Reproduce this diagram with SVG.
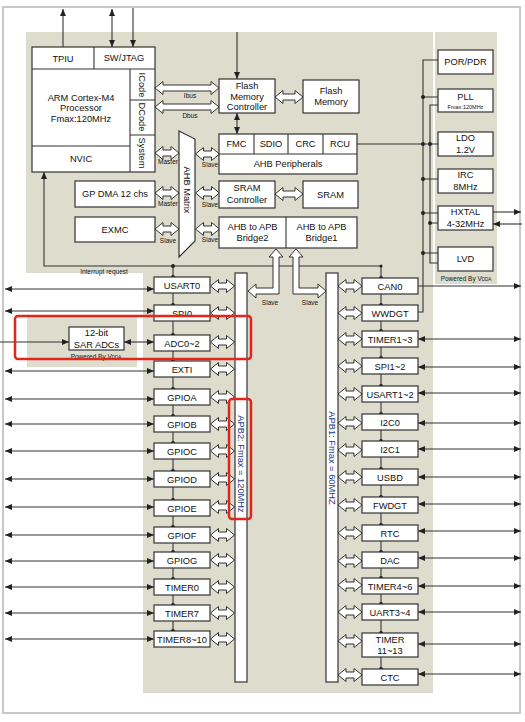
<svg xmlns="http://www.w3.org/2000/svg" xmlns:xlink="http://www.w3.org/1999/xlink" width="525" height="722" viewBox="0 0 525 722">
<style>
.bg{fill:#deddcd}
.box{fill:#fff;stroke:#333;stroke-width:1.2}
.t{font-family:"Liberation Sans",Arial,sans-serif;font-size:9.3px;fill:#111;text-anchor:middle}
.s{font-size:6.5px}
.xs{font-size:5.5px}
.bus{fill:#1c3a8a}
.ln{stroke:#333;stroke-width:1.1;fill:none}
.ar{marker-end:url(#ah)}
.ar2{marker-start:url(#ah);marker-end:url(#ah)}
.ha{fill:#fff;stroke:#333;stroke-width:1}
.dot{fill:#222}
.red{fill:none;stroke:#e3261d;stroke-width:2.5}
</style>
<defs>
<marker id="ah" viewBox="0 0 7 6" refX="7" refY="3" markerWidth="7" markerHeight="6" markerUnits="userSpaceOnUse" orient="auto-start-reverse"><path d="M0,0 L7,3 L0,6 z" fill="#222"/></marker>
<path id="dh" class="ha" d="M0,0 L8,-6.5 L8,-3 L16,-3 L16,-6.5 L24,0 L16,6.5 L16,3 L8,3 L8,6.5 Z"/>
</defs>
<rect x="0" y="0" width="525" height="722" fill="#fff"/>
<rect x="3" y="7" width="517" height="706" fill="#fff" stroke="#c8c8c8" stroke-width="2"/>
<path class="bg" d="M26,32 H433 V693 H143 V273 H26 Z"/>
<rect class="bg" x="435" y="32" width="62" height="252"/>
<rect class="bg" x="27" y="317" width="110" height="50"/>

<g id="connectors">
<path class="ln ar" d="M63,47 V9"/>
<path class="ln ar2" d="M112,9 V47"/>
<path class="ln ar" d="M133,8 V47"/>
<path class="ln ar" d="M237,32 V79"/>
<path class="ln ar2" d="M237,113 V134"/>
<path class="ln ar" d="M381,278 V266 H44 V172"/>
<path class="ln" d="M173,266 V631"/>
<path class="ln" d="M381,278 V669"/>
<path class="ln" d="M357,144 H423"/>
<path class="ln" d="M438,60 H423 V312 H418"/>
<path class="ln" d="M423,97 H438 M423,144 H438 M423,179 H438 M423,213 H438 M423,253 H438"/>
<path class="ln" d="M438,105 H430 V263 H438 M430,223 H438"/>
<path class="ln ar" d="M493,212 H521"/>
<path class="ln ar" d="M522,224 H493"/>
<path class="ln ar" d="M418,286 H521"/>
<path class="ln ar" d="M0,342 H69"/>
<path class="ln ar2" d="M124,342 H154"/>
<g class="ln ar2">
<path d="M5,289 H154"/><path d="M5,311 H154"/><path d="M5,371 H154"/><path d="M5,399 H154"/>
<path d="M5,424 H154"/><path d="M5,451 H154"/><path d="M5,479 H154"/><path d="M5,507 H154"/>
<path d="M5,535 H154"/><path d="M5,561 H154"/><path d="M5,587 H154"/><path d="M5,613 H154"/><path d="M5,639 H154"/>
<path d="M418,339 H521"/><path d="M418,367 H521"/><path d="M418,393 H521"/><path d="M418,423 H521"/>
<path d="M418,449 H521"/><path d="M418,477 H521"/><path d="M418,504 H521"/><path d="M418,531 H521"/>
<path d="M418,558 H521"/><path d="M418,586 H521"/><path d="M418,612 H521"/><path d="M418,644 H521"/><path d="M418,674 H521"/>
</g>
<g class="dot">
<circle cx="173" cy="266" r="2"/><circle cx="381" cy="266" r="1.5"/>
<circle cx="173" cy="277" r="2"/><circle cx="173" cy="305" r="2"/><circle cx="173" cy="335" r="2"/><circle cx="173" cy="361" r="2"/>
<circle cx="173" cy="389" r="2"/><circle cx="173" cy="416" r="2"/><circle cx="173" cy="443" r="2"/><circle cx="173" cy="471" r="2"/>
<circle cx="173" cy="500" r="2"/><circle cx="173" cy="527" r="2"/><circle cx="173" cy="552" r="2"/><circle cx="173" cy="579" r="2"/>
<circle cx="173" cy="605" r="2"/><circle cx="173" cy="631" r="2"/>
<circle cx="381" cy="278" r="2"/><circle cx="381" cy="305" r="2"/><circle cx="381" cy="331" r="2"/><circle cx="381" cy="358" r="2"/>
<circle cx="381" cy="386" r="2"/><circle cx="381" cy="414" r="2"/><circle cx="381" cy="441" r="2"/><circle cx="381" cy="469" r="2"/>
<circle cx="381" cy="497" r="2"/><circle cx="381" cy="525" r="2"/><circle cx="381" cy="552" r="2"/><circle cx="381" cy="578" r="2"/>
<circle cx="381" cy="604" r="2"/><circle cx="381" cy="633" r="2"/><circle cx="381" cy="669" r="2"/>
<circle cx="423" cy="97" r="2"/><circle cx="423" cy="144" r="2"/><circle cx="430" cy="144" r="2"/><circle cx="423" cy="179" r="2"/>
<circle cx="423" cy="213" r="2"/><circle cx="430" cy="223" r="2"/><circle cx="423" cy="253" r="2"/>
</g>
<path class="ha" d="M155,88 L163,81.5 L163,85 L211,85 L211,81.5 L219,88 L211,94.5 L211,91 L163,91 L163,94.5 Z"/>
<path class="ha" d="M155,107 L163,100.5 L163,104 L211,104 L211,100.5 L219,107 L211,113.5 L211,110 L163,110 L163,113.5 Z"/>
<path class="ha" d="M275,97 L283,90.5 L283,94 L295,94 L295,90.5 L303,97 L295,103.5 L295,100 L283,100 L283,103.5 Z"/>
<path class="ha" d="M275,194 L283,187.5 L283,191 L295,191 L295,187.5 L303,194 L295,200.5 L295,197 L283,197 L283,200.5 Z"/>
<use xlink:href="#dh" href="#dh" transform="translate(155,153)"/>
<use xlink:href="#dh" href="#dh" transform="translate(155,193)"/>
<use xlink:href="#dh" href="#dh" transform="translate(155,229)"/>
<use xlink:href="#dh" href="#dh" transform="translate(195.5,154)"/>
<use xlink:href="#dh" href="#dh" transform="translate(195.5,193)"/>
<use xlink:href="#dh" href="#dh" transform="translate(195.5,229)"/>
<path class="ha" d="M276,249 L283,257 L279,257 L279,294 L256,294 L256,298 L248,291 L256,284 L256,288 L273,288 L273,257 L269,257 Z"/>
<path class="ha" d="M296,249 L303,257 L299,257 L299,288 L318,288 L318,284 L326,291 L318,298 L318,294 L293,294 L293,257 L289,257 Z"/>
<g>
<use xlink:href="#dh" href="#dh" transform="translate(210.5,286)"/>
<use xlink:href="#dh" href="#dh" transform="translate(210.5,313)"/>
<use xlink:href="#dh" href="#dh" transform="translate(210.5,342)"/>
<use xlink:href="#dh" href="#dh" transform="translate(210.5,369)"/>
<use xlink:href="#dh" href="#dh" transform="translate(210.5,397)"/>
<use xlink:href="#dh" href="#dh" transform="translate(210.5,424)"/>
<use xlink:href="#dh" href="#dh" transform="translate(210.5,451)"/>
<use xlink:href="#dh" href="#dh" transform="translate(210.5,479)"/>
<use xlink:href="#dh" href="#dh" transform="translate(210.5,507)"/>
<use xlink:href="#dh" href="#dh" transform="translate(210.5,535)"/>
<use xlink:href="#dh" href="#dh" transform="translate(210.5,560)"/>
<use xlink:href="#dh" href="#dh" transform="translate(210.5,587)"/>
<use xlink:href="#dh" href="#dh" transform="translate(210.5,613)"/>
<use xlink:href="#dh" href="#dh" transform="translate(210.5,639)"/>
<use xlink:href="#dh" href="#dh" transform="translate(338,286)"/>
<use xlink:href="#dh" href="#dh" transform="translate(338,313)"/>
<use xlink:href="#dh" href="#dh" transform="translate(338,339)"/>
<use xlink:href="#dh" href="#dh" transform="translate(338,366)"/>
<use xlink:href="#dh" href="#dh" transform="translate(338,394)"/>
<use xlink:href="#dh" href="#dh" transform="translate(338,423)"/>
<use xlink:href="#dh" href="#dh" transform="translate(338,450)"/>
<use xlink:href="#dh" href="#dh" transform="translate(338,477)"/>
<use xlink:href="#dh" href="#dh" transform="translate(338,505)"/>
<use xlink:href="#dh" href="#dh" transform="translate(338,533)"/>
<use xlink:href="#dh" href="#dh" transform="translate(338,561)"/>
<use xlink:href="#dh" href="#dh" transform="translate(338,585)"/>
<use xlink:href="#dh" href="#dh" transform="translate(338,612)"/>
<use xlink:href="#dh" href="#dh" transform="translate(338,641)"/>
<use xlink:href="#dh" href="#dh" transform="translate(338,675)"/>
</g>
<g class="t s">
<text x="190" y="98">Ibus</text><text x="190" y="118">Dbus</text>
<text x="168" y="164">Master</text><text x="168" y="206">Master</text><text x="168" y="243">Slave</text>
<text x="210" y="167">Slave</text><text x="210" y="207">Slave</text><text x="210" y="242">Slave</text>
<text x="270" y="305">Slave</text><text x="310" y="305">Slave</text>
<text x="104" y="274">Interrupt request</text>
</g>
</g>

<g id="cpu">
<rect class="box" x="32" y="47" width="123" height="125"/>
<path class="ln" d="M32,69 H155 M94,47 V69 M130,69 V172 M130,100 H155 M130,135 H155 M32,146 H130"/>
<text class="t" x="63" y="62">TPIU</text>
<text class="t" x="124" y="61">SW/JTAG</text>
<text class="t" x="81" y="101">ARM Cortex-M4</text>
<text class="t" x="81" y="111">Processor</text>
<text class="t" x="81" y="122">Fmax:120MHz</text>
<text class="t" x="81" y="162">NVIC</text>
<text class="t" x="142" y="85" dominant-baseline="central" transform="rotate(90 142 85)">ICode</text>
<text class="t" x="142" y="117" dominant-baseline="central" transform="rotate(90 142 117)">DCode</text>
<text class="t" x="142" y="153" dominant-baseline="central" transform="rotate(90 142 153)">System</text>
</g>
<g id="ahb-matrix">
<polygon class="box" points="179,131 195,139 195,241 179,257"/>
<text class="t" x="187" y="190" dominant-baseline="central" transform="rotate(90 187 190)">AHB Matrix</text>
</g>
<g id="gpdma"><rect class="box" x="75" y="181" width="80" height="26"/><text class="t" x="115" y="197">GP DMA 12 chs</text></g>
<g id="exmc"><rect class="box" x="75" y="217" width="80" height="25"/><text class="t" x="115" y="233">EXMC</text></g>
<g id="flash-ctrl"><rect class="box" x="219" y="79" width="56" height="34"/><text class="t" x="247" y="89">Flash</text><text class="t" x="247" y="100">Memory</text><text class="t" x="247" y="110">Controller</text></g>
<g id="flash"><rect class="box" x="303" y="80" width="56" height="33"/><text class="t" x="331" y="94">Flash</text><text class="t" x="331" y="105">Memory</text></g>
<g id="ahb-periph">
<rect class="box" x="219" y="134" width="138" height="40"/>
<path class="ln" d="M219,154 H357 M254,134 V154 M288,134 V154 M323,134 V154"/>
<text class="t" x="236.5" y="147">FMC</text><text class="t" x="271" y="147">SDIO</text><text class="t" x="305.5" y="147">CRC</text><text class="t" x="340" y="147">RCU</text>
<text class="t" x="288" y="167">AHB Peripherals</text>
</g>
<g id="sram-ctrl"><rect class="box" x="219" y="181" width="56" height="27"/><text class="t" x="247" y="191">SRAM</text><text class="t" x="247" y="203">Controller</text></g>
<g id="sram"><rect class="box" x="303" y="181" width="55" height="27"/><text class="t" x="330.5" y="198">SRAM</text></g>
<g id="bridges">
<rect class="box" x="219" y="217" width="138" height="31"/>
<path class="ln" d="M286,217 V248"/>
<text class="t" x="252.5" y="230">AHB to APB</text><text class="t" x="252.5" y="241">Bridge2</text>
<text class="t" x="321.5" y="230">AHB to APB</text><text class="t" x="321.5" y="241">Bridge1</text>
</g>
<g id="power">
<g id="porpdr"><rect class="box" x="438" y="50" width="55" height="24"/><text class="t" x="465.5" y="65">POR/PDR</text></g>
<g id="pll"><rect class="box" x="438" y="89" width="55" height="23"/><text class="t" x="465.5" y="100">PLL</text><text class="t xs" x="465.5" y="109">Fmax:120MHz</text></g>
<g id="ldo"><rect class="box" x="438" y="132" width="55" height="24"/><text class="t" x="465.5" y="141">LDO</text><text class="t" x="465.5" y="153">1.2V</text></g>
<g id="irc"><rect class="box" x="438" y="169" width="55" height="24"/><text class="t" x="465.5" y="178">IRC</text><text class="t" x="465.5" y="190">8MHz</text></g>
<g id="hxtal"><rect class="box" x="438" y="206" width="55" height="24"/><text class="t" x="465.5" y="215">HXTAL</text><text class="t" x="465.5" y="227">4-32MHz</text></g>
<g id="lvd"><rect class="box" x="438" y="247" width="55" height="24"/><text class="t" x="465.5" y="262">LVD</text></g>
<text class="t s" x="466" y="281">Powered By V<tspan font-size="4.5">DDA</tspan></text>
</g>
<g id="sar-adc"><rect class="box" x="69" y="327" width="55" height="23"/><text class="t" x="96.5" y="336">12-bit</text><text class="t" x="96.5" y="348">SAR ADCs</text>
<text class="t s" x="96" y="359">Powered By V<tspan font-size="4.5">DDA</tspan></text></g>
<g id="apb2-bus"><rect class="box" x="235" y="273" width="12" height="409"/><text class="t bus" x="241" y="464" dominant-baseline="central" transform="rotate(90 241 464)">APB2: Fmax = 120MHz</text></g>
<g id="apb1-bus"><rect class="box" x="326" y="273" width="12" height="409"/><text class="t bus" x="332" y="458" dominant-baseline="central" transform="rotate(90 332 458)">APB1: Fmax = 60MHZ</text></g>
<g id="apb2-periph">
<g id="usart0"><rect class="box" x="154" y="277" width="56" height="16"/><text class="t" x="182" y="288.5">USART0</text></g>
<g id="spi0"><rect class="box" x="154" y="305" width="56" height="16"/><text class="t" x="182" y="316.5">SPI0</text></g>
<g id="adc"><rect class="box" x="154" y="335" width="56" height="16"/><text class="t" x="182" y="346.5">ADC0~2</text></g>
<g id="exti"><rect class="box" x="154" y="361" width="56" height="16"/><text class="t" x="182" y="372.5">EXTI</text></g>
<g id="gpioa"><rect class="box" x="154" y="389" width="56" height="16"/><text class="t" x="182" y="400.5">GPIOA</text></g>
<g id="gpiob"><rect class="box" x="154" y="416" width="56" height="16"/><text class="t" x="182" y="427.5">GPIOB</text></g>
<g id="gpioc"><rect class="box" x="154" y="443" width="56" height="16"/><text class="t" x="182" y="454.5">GPIOC</text></g>
<g id="gpiod"><rect class="box" x="154" y="471" width="56" height="16"/><text class="t" x="182" y="482.5">GPIOD</text></g>
<g id="gpioe"><rect class="box" x="154" y="500" width="56" height="16"/><text class="t" x="182" y="511.5">GPIOE</text></g>
<g id="gpiof"><rect class="box" x="154" y="527" width="56" height="16"/><text class="t" x="182" y="538.5">GPIOF</text></g>
<g id="gpiog"><rect class="box" x="154" y="552" width="56" height="16"/><text class="t" x="182" y="563.5">GPIOG</text></g>
<g id="timer0"><rect class="box" x="154" y="579" width="56" height="16"/><text class="t" x="182" y="590.5">TIMER0</text></g>
<g id="timer7"><rect class="box" x="154" y="605" width="56" height="16"/><text class="t" x="182" y="616.5">TIMER7</text></g>
<g id="timer8"><rect class="box" x="154" y="631" width="56" height="16"/><text class="t" x="182" y="642.5" font-size="8.5">TIMER8~10</text></g>
</g>
<g id="apb1-periph">
<g id="can0"><rect class="box" x="362" y="278" width="56" height="16"/><text class="t" x="390" y="289.5">CAN0</text></g>
<g id="wwdgt"><rect class="box" x="362" y="305" width="56" height="16"/><text class="t" x="390" y="316.5">WWDGT</text></g>
<g id="timer1"><rect class="box" x="362" y="331" width="56" height="16"/><text class="t" x="390" y="342.5">TIMER1~3</text></g>
<g id="spi1"><rect class="box" x="362" y="358" width="56" height="16"/><text class="t" x="390" y="369.5">SPI1~2</text></g>
<g id="usart1"><rect class="box" x="362" y="386" width="56" height="16"/><text class="t" x="390" y="397.5">USART1~2</text></g>
<g id="i2c0"><rect class="box" x="362" y="414" width="56" height="16"/><text class="t" x="390" y="425.5">I2C0</text></g>
<g id="i2c1"><rect class="box" x="362" y="441" width="56" height="16"/><text class="t" x="390" y="452.5">I2C1</text></g>
<g id="usbd"><rect class="box" x="362" y="469" width="56" height="16"/><text class="t" x="390" y="480.5">USBD</text></g>
<g id="fwdgt"><rect class="box" x="362" y="497" width="56" height="16"/><text class="t" x="390" y="508.5">FWDGT</text></g>
<g id="rtc"><rect class="box" x="362" y="525" width="56" height="16"/><text class="t" x="390" y="536.5">RTC</text></g>
<g id="dac"><rect class="box" x="362" y="552" width="56" height="16"/><text class="t" x="390" y="563.5">DAC</text></g>
<g id="timer4"><rect class="box" x="362" y="578" width="56" height="16"/><text class="t" x="390" y="589.5">TIMER4~6</text></g>
<g id="uart3"><rect class="box" x="362" y="604" width="56" height="16"/><text class="t" x="390" y="615.5">UART3~4</text></g>
<g id="timer11"><rect class="box" x="362" y="633" width="56" height="24"/><text class="t" x="390" y="643">TIMER</text><text class="t" x="390" y="654">11~13</text></g>
<g id="ctc"><rect class="box" x="362" y="669" width="56" height="16"/><text class="t" x="390" y="680.5">CTC</text></g>
</g>
<g id="highlights">
<rect class="red" x="15" y="316" width="236" height="43" rx="3"/>
<rect class="red" x="229" y="399" width="22" height="120" rx="3"/>
</g>
</svg>
